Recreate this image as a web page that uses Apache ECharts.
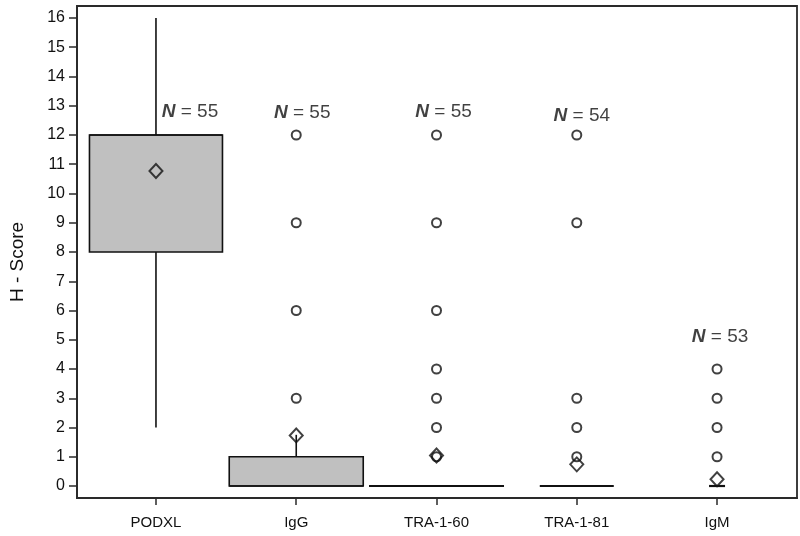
<!DOCTYPE html>
<html>
<head>
<meta charset="utf-8">
<script src="https://cdn.jsdelivr.net/npm/echarts@6/dist/echarts.min.js"></script>
<style>
html,body{margin:0;padding:0;background:#fff;}
#chart{width:800px;height:536px;}
</style>
</head>
<body>
<div id="chart"></div>
<script>
// ---- data ----
const categories = ['PODXL', 'IgG', 'TRA-1-60', 'TRA-1-81', 'IgM'];
const whiskerLow  = [2, 0, 0, 0, 0];
const q1          = [8, 0, 0, 0, 0];
const median      = [12, 0, 0, 0, 0];
const q3          = [12, 1, 0, 0, 0];
const whiskerHigh = [16, 1.75, 0, 0, 0];
const means       = [10.77, 1.73, 1.04, 0.74, 0.23];
const nCounts     = [55, 55, 55, 54, 53];
const outliers = [
  [],
  [3, 6, 9, 12],
  [1, 2, 3, 4, 6, 9, 12],
  [1, 2, 3, 9, 12],
  [1, 2, 3, 4]
];
const yTicks = [0,1,2,3,4,5,6,7,8,9,10,11,12,13,14,15,16];
const xTicks = [0,1,2,3,4];

// ---- layout / style (not data) ----
const boxWidthsPx = [133, 134, 135, 74, 16];
const nLabelY = [12.8, 12.75, 12.8, 12.65, 5.1];
const nLabelDx = [34, 6, 7, 5, 3];
const INK = '#111';

const boxData = categories.map((c, i) => [i, whiskerLow[i], q1[i], median[i], q3[i], whiskerHigh[i]]);
const outlierData = [];
outliers.forEach((arr, i) => arr.forEach(v => outlierData.push([i, v])));
const meanData = means.map((m, i) => [i, m]);
const nData = nCounts.map((n, i) => ({
  value: [i, nLabelY[i]],
  label: { offset: [nLabelDx[i], 0] }
}));

const chart = echarts.init(document.getElementById('chart'), null, { renderer: 'canvas' });

const option = {
  backgroundColor: '#fff',
  animation: false,
  textStyle: { fontFamily: 'Arial, "Liberation Sans", sans-serif' },
  grid: {
    left: 77, right: 3, top: 6, bottom: 38,
    show: true, borderColor: '#2a2a2a', borderWidth: 1.8, backgroundColor: 'transparent'
  },
  xAxis: {
    type: 'value', min: -0.563, max: 4.57,
    splitLine: { show: false },
    axisLine: { show: true, onZero: false, lineStyle: { color: '#2a2a2a', width: 1.8 } },
    axisTick: { show: true, length: 7, customValues: xTicks, lineStyle: { color: '#2a2a2a', width: 1.5 } },
    axisLabel: {
      customValues: xTicks, margin: 17, fontSize: 15, color: INK,
      formatter: v => categories[Math.round(v)] || ''
    }
  },
  yAxis: {
    type: 'value', min: -0.41, max: 16.41,
    name: 'H - Score', nameLocation: 'middle', nameGap: 50,
    nameTextStyle: { fontSize: 19, color: INK, padding: [0, 20, 0, 0] },
    splitLine: { show: false },
    axisLine: { show: true, onZero: false, lineStyle: { color: '#2a2a2a', width: 1.8 } },
    axisTick: { show: true, length: 8, customValues: yTicks, lineStyle: { color: '#2a2a2a', width: 1.5 } },
    axisLabel: { customValues: yTicks, margin: 12, fontSize: 16, color: INK }
  },
  series: [
    {
      type: 'custom',
      data: boxData,
      z: 2,
      renderItem: function (params, api) {
        const i = api.value(0);
        const lo = api.value(1), b = api.value(2), med = api.value(3), t = api.value(4), hi = api.value(5);
        const hw = boxWidthsPx[params.dataIndex] / 2;
        const pLo = api.coord([i, lo]);
        const pB = api.coord([i, b]);
        const pM = api.coord([i, med]);
        const pT = api.coord([i, t]);
        const pHi = api.coord([i, hi]);
        const x = pB[0];
        const children = [];
        const lineStyle = { stroke: INK, lineWidth: 1.6 };
        if (lo < b) children.push({ type: 'line', shape: { x1: x, y1: pLo[1], x2: x, y2: pB[1] }, style: lineStyle });
        if (hi > t) children.push({ type: 'line', shape: { x1: x, y1: pT[1], x2: x, y2: pHi[1] }, style: lineStyle });
        if (t > b) {
          children.push({
            type: 'rect',
            shape: { x: x - hw, y: pT[1], width: hw * 2, height: pB[1] - pT[1] },
            style: { fill: '#c0c0c0', stroke: INK, lineWidth: 1.6 }
          });
          children.push({ type: 'line', shape: { x1: x - hw, y1: pM[1], x2: x + hw, y2: pM[1] }, style: lineStyle });
        } else {
          children.push({ type: 'line', shape: { x1: x - hw, y1: pB[1], x2: x + hw, y2: pB[1] }, style: { stroke: INK, lineWidth: 2.2 } });
        }
        return { type: 'group', children: children };
      }
    },
    {
      type: 'scatter',
      data: outlierData,
      symbol: 'circle', symbolSize: 9, z: 3,
      itemStyle: { color: '#fff', borderColor: INK, borderWidth: 2 }
    },
    {
      type: 'scatter',
      data: meanData,
      symbol: 'diamond', symbolSize: [13, 14], z: 4,
      itemStyle: { color: 'rgba(0,0,0,0)', borderColor: INK, borderWidth: 2 }
    },
    {
      type: 'scatter',
      data: nData,
      symbolSize: 0, z: 5,
      label: {
        show: true, position: 'inside',
        formatter: p => '{n|N} = ' + nCounts[p.dataIndex],
        fontSize: 19, color: INK,
        rich: {
          n: { fontSize: 19, fontWeight: 'bold', fontStyle: 'italic', color: INK }
        }
      }
    }
  ]
};
chart.setOption(option);
</script>
</body>
</html>
